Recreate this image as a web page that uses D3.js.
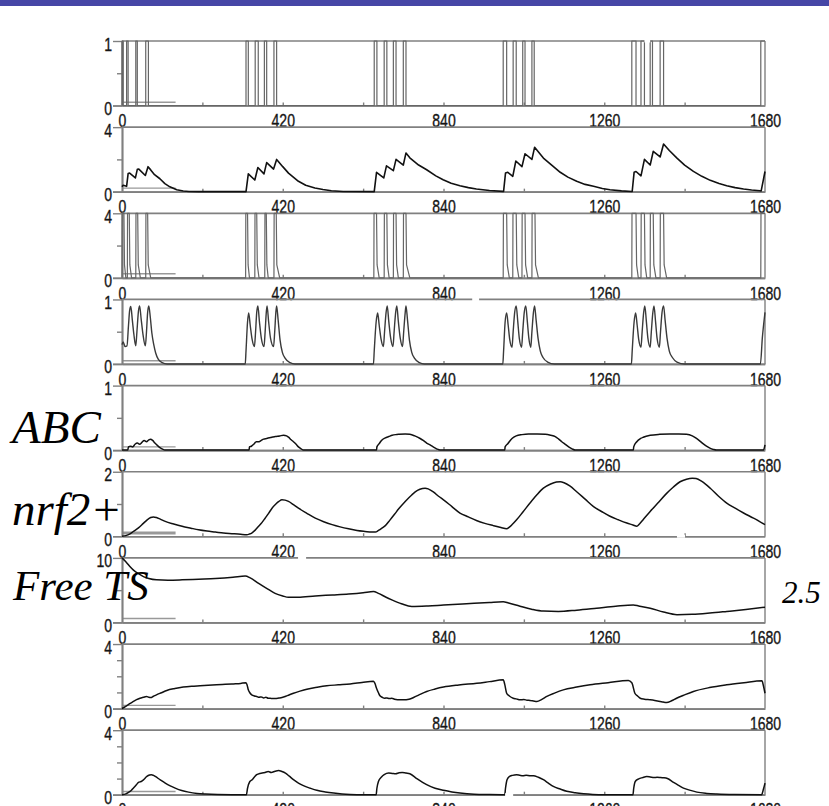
<!DOCTYPE html>
<html>
<head>
<meta charset="utf-8">
<script src="https://cdn.jsdelivr.net/npm/d3@7"></script>
<style>
  html, body { margin: 0; padding: 0; background: #fff; }
  svg { display: block; }
  .tick text { font-family: "Liberation Sans", Arial, sans-serif; fill: #151515; stroke: #151515; stroke-width: 0.35; }
  .lbl { font-family: "Liberation Serif", "Times New Roman", serif; font-style: italic; fill: #000; }
</style>
</head>
<body>
<svg id="chart" width="829" height="806"></svg>
<script>
// -------------------------
// Data
// -------------------------
const xLabelTicks = [0, 420, 840, 1260, 1680];
const xMinorTicks = [210, 420, 630, 840, 1050, 1260, 1470];

// panel 1: puff on / off times
const puffs = [
  [0, 3], [12, 16], [36, 40], [62, 69],
  [324, 330], [348, 356], [372, 378], [397, 404],
  [659, 666], [685, 692], [709, 716], [735, 742],
  [996, 1005], [1022, 1030], [1047, 1053], [1071, 1077],
  [1332, 1343], [1356, 1365], [1380, 1386], [1406, 1415],
  [1669, 1680]
];

// panel 2
const deposit = [
  [0,0.3],[3,0.4],[12,0.33],[16,1.12],[20,1.15],[35,0.85],[40,1.38],[44,1.4],[61,1.0],[68,1.55],
  [75,1.35],[85,1.05],[99,0.8],[112,0.5],[125,0.3],[143,0.12],[160,0.04],[175,0.01],[200,0],[323,0],
  [324,0],[330,1.1],[347,0.72],[355,1.5],[371,1.1],[378,1.8],[396,1.4],[404,2.0],[420,1.55],[435,1.15],
  [461,0.64],[480,0.4],[504,0.23],[525,0.13],[547,0.06],[578,0.01],[658,0],
  [659,0],[665,1.2],[684,0.85],[691,1.6],[709,1.3],[716,2.0],[735,1.65],[742,2.4],[752,2.1],[775,1.65],
  [796,1.36],[820,0.98],[839,0.74],[860,0.52],[883,0.37],[905,0.25],[926,0.16],[960,0.07],[995,0.02],
  [997,0.02],[1002,1.15],[1008,1.2],[1021,0.95],[1029,1.9],[1045,1.55],[1053,2.35],[1071,2.0],[1078,2.75],
  [1101,2.08],[1125,1.6],[1145,1.2],[1165,0.9],[1188,0.64],[1210,0.45],[1232,0.33],[1255,0.2],[1275,0.12],
  [1305,0.05],[1332,0.01],
  [1333,0.01],[1338,1.2],[1343,1.25],[1356,0.98],[1365,2.0],[1380,1.65],[1388,2.5],[1406,2.15],[1415,2.95],
  [1430,2.55],[1450,2.08],[1470,1.65],[1493,1.26],[1515,0.95],[1537,0.7],[1560,0.5],[1580,0.37],[1602,0.25],
  [1624,0.16],[1645,0.1],[1667,0.06],[1670,0.05],[1680,1.25]
];

// panel 3
const spikes = [
  [0,0],[0.5,4],[5,4],[6.5,0.8],[10,0],
  [14,0],[14.5,4],[19,4],[20.5,0.8],[25,0],
  [36,0],[36.5,4],[41,4],[42.5,0.8],[48,0],
  [62,0],[62.5,4],[67,4],[68.5,0.8],[75,0],
  [323,0],[323.5,4],[328,4],[329.5,0.8],[333,0],
  [347,0],[347.5,4],[352,4],[353.5,0.8],[358,0],
  [373,0],[373.5,4],[377,4],[378.5,0.8],[382,0],
  [397,0],[397.5,4],[403,4],[404.5,0.8],[412,0],
  [658,0],[658.5,4],[665,4],[666.5,0.8],[672,0],
  [685,0],[685.5,4],[692,4],[693.5,0.8],[698,0],
  [709,0],[709.5,4],[716,4],[717.5,0.8],[722,0],
  [735,0],[735.5,4],[742,4],[743.5,0.8],[752,0],
  [996,0],[996.5,4],[1005,4],[1006.5,0.8],[1012,0],
  [1021,0],[1021.5,4],[1030,4],[1031.5,0.8],[1037,0],
  [1045,0],[1045.5,4],[1053,4],[1054.5,0.8],[1060,0],
  [1071,0],[1071.5,4],[1079,4],[1080.5,0.8],[1088,0],
  [1332,0],[1332.5,4],[1343,4],[1344.5,0.8],[1349,0],
  [1356,0],[1356.5,4],[1365,4],[1366.5,0.8],[1371,0],
  [1380,0],[1380.5,4],[1388,4],[1389.5,0.8],[1395,0],
  [1406,0],[1406.5,4],[1415,4],[1416.5,0.8],[1423,0],
  [1669,0],[1669.5,4],[1680,4]
];

// panel 4
const bursts = [
  [0,0.3],[3,0.34],[8,0.27],[13,0.28],[17,0.6],[20,0.83],[23,0.89],[27,0.68],[31,0.46],[36,0.28],
  [39,0.5],[43,0.82],[46,0.9],[50,0.7],[55,0.45],[61,0.28],[64,0.5],[67,0.8],[70,0.9],[74,0.72],
  [78,0.48],[83,0.3],[88,0.17],[95,0.07],[105,0.02],[118,0],[322,0],
  [324,0.2],[328,0.65],[331,0.79],[335,0.6],[340,0.38],[346,0.27],[349,0.5],[352,0.8],[355,0.9],
  [359,0.66],[364,0.4],[371,0.27],[374,0.5],[377,0.8],[379,0.9],[383,0.66],[388,0.4],[396,0.27],
  [399,0.5],[402,0.8],[404,0.9],[408,0.68],[413,0.37],[419,0.18],[426,0.09],[439,0.02],[452,0],[657,0],
  [659,0.2],[664,0.65],[668,0.79],[672,0.6],[677,0.38],[683,0.27],[686,0.5],[690,0.8],[693,0.9],
  [697,0.66],[702,0.4],[708,0.27],[711,0.5],[715,0.8],[718,0.9],[722,0.66],[727,0.4],[733,0.27],
  [736,0.5],[740,0.8],[742,0.9],[746,0.68],[751,0.37],[757,0.18],[764,0.09],[777,0.02],[790,0],[995,0],
  [997,0.2],[1001,0.65],[1005,0.79],[1009,0.6],[1013,0.38],[1019,0.26],[1022,0.5],[1026,0.8],[1030,0.9],
  [1034,0.66],[1038,0.4],[1044,0.26],[1047,0.5],[1051,0.8],[1055,0.9],[1059,0.66],[1063,0.4],[1068,0.26],
  [1071,0.5],[1075,0.8],[1078,0.9],[1082,0.68],[1087,0.4],[1093,0.2],[1100,0.1],[1112,0.03],[1130,0],[1331,0],
  [1333,0.2],[1338,0.65],[1342,0.79],[1346,0.6],[1350,0.38],[1356,0.26],[1359,0.5],[1363,0.8],[1366,0.9],
  [1370,0.66],[1374,0.4],[1380,0.26],[1383,0.5],[1387,0.8],[1390,0.9],[1394,0.66],[1398,0.4],[1404,0.26],
  [1407,0.5],[1411,0.8],[1415,0.9],[1419,0.68],[1424,0.4],[1430,0.2],[1438,0.1],[1450,0.03],[1470,0],
  [1668,0],[1673,0.4],[1680,0.8]
];

// panel 5: ABC
const abc = [
  [0,0],[15,0],[17,0.05],[22,0.06],[28,0.05],[34,0.09],[40,0.11],[46,0.09],[52,0.12],[58,0.15],
  [64,0.13],[70,0.16],[75,0.17],[80,0.15],[86,0.11],[93,0.07],[99,0.04],[106,0.015],[112,0],[332,0],
  [333,0.05],[338,0.06],[344,0.09],[351,0.13],[358,0.13],[364,0.15],[370,0.17],[378,0.18],[385,0.19],
  [391,0.2],[400,0.21],[412,0.22],[422,0.23],[430,0.22],[435,0.2],[442,0.16],[448,0.13],[455,0.09],
  [461,0.05],[468,0.02],[474,0],[665,0],
  [666,0.05],[672,0.1],[678,0.15],[688,0.19],[697,0.21],[706,0.23],[715,0.24],[724,0.245],[740,0.25],
  [752,0.245],[765,0.22],[779,0.18],[787,0.15],[796,0.11],[805,0.08],[813,0.05],[822,0.02],[831,0],[1000,0],
  [1001,0.05],[1008,0.1],[1019,0.18],[1030,0.22],[1045,0.24],[1062,0.25],[1085,0.25],[1106,0.245],
  [1120,0.23],[1132,0.21],[1141,0.17],[1149,0.13],[1158,0.09],[1167,0.05],[1176,0.02],[1184,0],[1336,0],
  [1337,0.05],[1345,0.13],[1355,0.18],[1362,0.2],[1380,0.23],[1405,0.245],[1431,0.25],[1455,0.25],
  [1475,0.245],[1490,0.22],[1501,0.18],[1510,0.14],[1518,0.1],[1527,0.06],[1536,0.03],[1545,0.01],
  [1553,0],[1676,0],[1680,0.08]
];

// panel 6: nrf2+
const nrf2 = [
  [0,0],[10,0.02],[17,0.05],[30,0.15],[43,0.26],[55,0.39],[65,0.5],[75,0.58],[82,0.6],[90,0.58],
  [100,0.53],[113,0.46],[135,0.38],[157,0.31],[180,0.25],[200,0.2],[222,0.16],[244,0.13],[265,0.1],
  [287,0.08],[310,0.06],[326,0.05],[333,0.07],[339,0.1],[348,0.19],[357,0.31],[366,0.43],[374,0.56],
  [383,0.71],[392,0.87],[402,1.0],[410,1.08],[418,1.13],[426,1.12],[435,1.08],[448,0.98],[461,0.87],
  [483,0.71],[505,0.56],[527,0.45],[549,0.36],[570,0.29],[592,0.23],[614,0.18],[635,0.15],[652,0.13],
  [662,0.13],[670,0.18],[680,0.26],[688,0.33],[700,0.5],[712,0.68],[723,0.85],[740,1.08],[757,1.28],
  [772,1.42],[785,1.48],[792,1.49],[800,1.47],[815,1.36],[827,1.24],[840,1.13],[862,0.92],[883,0.72],
  [905,0.6],[926,0.49],[948,0.4],[970,0.33],[990,0.27],[1005,0.23],[1012,0.28],[1020,0.37],[1031,0.51],
  [1048,0.76],[1066,1.03],[1083,1.27],[1101,1.49],[1120,1.62],[1135,1.68],[1145,1.69],[1155,1.66],
  [1170,1.56],[1188,1.38],[1210,1.15],[1232,0.92],[1254,0.76],[1275,0.62],[1297,0.51],[1319,0.41],
  [1335,0.35],[1345,0.31],[1352,0.38],[1362,0.52],[1380,0.77],[1400,1.03],[1423,1.33],[1440,1.52],
  [1458,1.69],[1475,1.77],[1490,1.8],[1500,1.79],[1515,1.7],[1537,1.49],[1558,1.25],[1580,1.03],
  [1602,0.87],[1624,0.72],[1650,0.56],[1680,0.36]
];

// panel 7: Free TS
const freeTS = [
  [0,10],[10,9.4],[20,8.7],[30,8.1],[42,7.6],[56,7.1],[70,6.8],[90,6.6],[120,6.55],[157,6.6],
  [200,6.7],[244,6.8],[290,7.0],[322,7.2],[335,6.9],[357,6.05],[380,5.2],[400,4.5],[420,4.1],[435,3.9],
  [460,3.9],[505,4.1],[550,4.25],[592,4.4],[630,4.6],[657,4.8],[670,4.5],[690,3.9],[705,3.5],[730,2.9],
  [757,2.46],[800,2.55],[840,2.7],[900,2.9],[960,3.1],[996,3.2],[1010,3.0],[1040,2.5],[1070,2.05],
  [1101,1.75],[1140,1.7],[1188,1.9],[1240,2.2],[1290,2.5],[1336,2.7],[1350,2.55],[1380,2.2],[1415,1.6],
  [1450,1.2],[1490,1.25],[1536,1.45],[1580,1.7],[1630,2.0],[1680,2.35]
];

// panel 8
const bound = [
  [0,0],[6,0.08],[12,0.17],[20,0.3],[30,0.44],[38,0.55],[47,0.64],[56,0.7],[64,0.75],[70,0.7],
  [75,0.68],[82,0.76],[90,0.85],[103,0.98],[117,1.12],[138,1.24],[160,1.33],[182,1.38],[204,1.41],
  [225,1.44],[247,1.47],[270,1.5],[291,1.53],[310,1.56],[324,1.6],[327,1.45],[330,1.16],[334,0.98],
  [339,0.85],[346,0.78],[352,0.75],[358,0.7],[364,0.72],[370,0.66],[376,0.7],[382,0.64],[390,0.63],
  [400,0.62],[410,0.65],[418,0.68],[432,0.8],[448,0.95],[465,1.08],[483,1.2],[510,1.32],[535,1.41],
  [565,1.47],[596,1.53],[627,1.62],[657,1.7],[661,1.55],[665,1.26],[670,0.98],[674,0.79],[680,0.7],
  [686,0.64],[692,0.66],[698,0.62],[705,0.64],[712,0.58],[720,0.55],[735,0.54],[750,0.58],[763,0.7],
  [776,0.85],[796,1.06],[818,1.21],[840,1.33],[880,1.46],[927,1.57],[960,1.67],[996,1.78],[1000,1.5],
  [1005,0.95],[1012,0.78],[1022,0.64],[1030,0.6],[1040,0.54],[1050,0.56],[1058,0.52],[1066,0.5],
  [1075,0.47],[1084,0.44],[1096,0.55],[1110,0.75],[1130,0.96],[1153,1.16],[1188,1.33],[1223,1.47],
  [1270,1.6],[1323,1.74],[1332,1.6],[1340,0.95],[1347,0.78],[1354,0.64],[1365,0.58],[1380,0.54],
  [1392,0.5],[1406,0.44],[1414,0.4],[1423,0.37],[1436,0.48],[1449,0.64],[1470,0.85],[1493,1.06],
  [1535,1.3],[1580,1.47],[1625,1.6],[1672,1.72],[1676,1.4],[1680,0.95]
];

// panel 9
const response = [
  [0,0],[10,0.05],[17,0.14],[24,0.26],[30,0.41],[37,0.6],[43,0.76],[50,0.82],[56,0.92],[65,1.13],
  [72,1.22],[77,1.24],[82,1.2],[87,1.13],[100,0.92],[113,0.72],[126,0.55],[139,0.41],[156,0.26],
  [174,0.16],[196,0.08],[218,0.04],[250,0.01],[287,0],[325,0],
  [328,0.4],[334,0.82],[340,0.93],[346,1.1],[352,1.24],[360,1.32],[366,1.34],[374,1.38],[382,1.44],
  [390,1.38],[400,1.45],[409,1.5],[418,1.44],[427,1.34],[437,1.15],[448,0.93],[461,0.72],[474,0.56],
  [492,0.4],[509,0.27],[531,0.17],[553,0.1],[575,0.05],[596,0.02],[630,0],[664,0],
  [666,0.4],[670,0.82],[678,1.1],[685,1.24],[697,1.34],[706,1.32],[715,1.3],[724,1.36],[732,1.38],
  [742,1.34],[752,1.3],[770,1.0],[796,0.62],[818,0.4],[840,0.27],[862,0.17],[883,0.1],[920,0.03],
  [960,0.01],[1000,0],
  [1002,0.4],[1006,0.93],[1012,1.13],[1020,1.2],[1031,1.24],[1040,1.2],[1048,1.18],[1056,1.2],
  [1066,1.18],[1075,1.18],[1088,1.08],[1101,0.93],[1114,0.72],[1127,0.52],[1145,0.35],[1162,0.21],
  [1184,0.12],[1206,0.06],[1230,0.02],[1258,0],[1335,0],
  [1337,0.4],[1341,0.82],[1350,0.98],[1360,1.06],[1371,1.13],[1380,1.1],[1390,1.06],[1398,1.08],
  [1406,1.07],[1415,1.05],[1425,1.0],[1441,0.76],[1454,0.58],[1467,0.41],[1485,0.27],[1502,0.16],
  [1528,0.08],[1554,0.04],[1600,0.01],[1671,0],[1676,0.35],[1680,0.72]
];

// panel y maxima, minor y ticks and the short grey level mark (data units) near t = 0..140
const yMax = [1, 4, 4, 1, 1, 2, 10, 4, 4];
const yMinor = [[0.5], [2], [2], [0.5], [0.5], [1], [5], [1, 2, 3], [1, 2, 3]];
const levelMark = [0.05, 0.22, 0.25, 0.05, 0.05, 0.1, 0.6, 0.2, 0.2];
const markEnd = 140;

// white breaks in the frame lines (panel, edge, t0, t1)
const frameBreaks = [[0, "top", 1365, 1380], [3, "top", 915, 933], [5, "bottom", 1450, 1471],
                     [6, "top", 460, 481], [8, "bottom", 1001, 1022]];

const sideLabels = [
  {text: "ABC", x: 12, y: 443, size: 47},
  {text: "nrf2+", x: 12, y: 525, size: 47},
  {text: "Free TS", x: 13, y: 600, size: 43},
  {text: "2.5", x: 782, y: 603, size: 31}
];

// -------------------------
// Layout
// -------------------------
const svg = d3.select("#chart");
const PANEL_TOP = 41, PANEL_STEP = 86.15, PANEL_H = 64.5;
const FRAME = "#808080";
const SQUEEZE = 0.78;   // tick labels are a narrow face

svg.append("rect").attr("x", 0).attr("y", 0).attr("width", 829).attr("height", 6).attr("fill", "#4646a6");

const x = d3.scaleLinear().domain([0, 1680]).range([122, 765]);

const puffLine = [];
puffs.forEach(([s, e]) => { puffLine.push([s, 0], [s, 1], [e, 1]); if (e < 1680) puffLine.push([e, 0]); });

const series = [
  {data: puffLine, color: "#666", w: 1.2, curve: d3.curveLinear},
  {data: deposit, color: "#111", w: 1.6, curve: d3.curveLinear},
  {data: spikes, color: "#666", w: 1.2, curve: d3.curveLinear},
  {data: bursts, color: "#3a3a3a", w: 1.4, curve: d3.curveMonotoneX},
  {data: abc, color: "#111", w: 1.5, curve: d3.curveMonotoneX},
  {data: nrf2, color: "#111", w: 1.5, curve: d3.curveMonotoneX},
  {data: freeTS, color: "#111", w: 1.5, curve: d3.curveMonotoneX},
  {data: bound, color: "#111", w: 1.5, curve: d3.curveMonotoneX},
  {data: response, color: "#111", w: 1.5, curve: d3.curveMonotoneX}
];

series.forEach((s, i) => {
  const top = PANEL_TOP + i * PANEL_STEP, bottom = top + PANEL_H;
  const y = d3.scaleLinear().domain([0, yMax[i]]).range([bottom, top]);
  const g = svg.append("g");

  // grey level mark
  g.append("line")
    .attr("x1", x(0)).attr("x2", x(markEnd))
    .attr("y1", y(levelMark[i])).attr("y2", y(levelMark[i]))
    .attr("stroke", "#999").attr("stroke-width", i === 5 ? 3 : 1.4);

  // frame: top and right edges
  g.append("line").attr("x1", x(0)).attr("x2", x(1680)).attr("y1", top).attr("y2", top)
    .attr("stroke", FRAME).attr("stroke-width", 1.7);
  g.append("line").attr("x1", x(1680)).attr("x2", x(1680)).attr("y1", top).attr("y2", bottom)
    .attr("stroke", FRAME).attr("stroke-width", 1.4);

  // left axis: long ticks with labels, short minor ticks
  const yAxis = g.append("g").attr("transform", `translate(${x(0)},0)`)
    .call(d3.axisLeft(y).tickValues([0, yMax[i]]).tickSize(9).tickSizeOuter(0).tickPadding(1)
      .tickFormat(d3.format("d")));
  g.append("g").attr("transform", `translate(${x(0)},0)`)
    .call(d3.axisLeft(y).tickValues(yMinor[i]).tickSize(5).tickSizeOuter(0).tickFormat(""));

  // bottom axis: labels below, small inner ticks
  const xAxis = g.append("g").attr("transform", `translate(0,${bottom})`)
    .call(d3.axisBottom(x).tickValues(xLabelTicks).tickSize(0).tickSizeOuter(0).tickPadding(9)
      .tickFormat(d3.format("d")));
  g.append("g").attr("transform", `translate(0,${bottom})`)
    .call(d3.axisBottom(x).tickValues(xMinorTicks).tickSize(-3).tickSizeOuter(0).tickFormat(""));

  g.selectAll(".domain").attr("stroke", FRAME).attr("stroke-width", 1.7);
  g.selectAll(".tick line").attr("stroke", FRAME).attr("stroke-width", 1.4);
  g.selectAll(".tick text").attr("font-size", 18).attr("transform", `scale(${SQUEEZE},1)`);
  yAxis.selectAll(".tick text").attr("x", -10 / SQUEEZE).attr("dy", "0.5em");
  xAxis.select(".domain").attr("d", `M${x(0) - 9},0.5H${x(1680)}`);

  // the curve
  const line = d3.line().x(d => x(d[0])).y(d => y(d[1])).curve(s.curve);
  g.append("path").datum(s.data)
    .attr("d", line)
    .attr("fill", "none")
    .attr("stroke", s.color)
    .attr("stroke-width", s.w)
    .attr("stroke-linejoin", "round");

  // breaks in the frame lines
  frameBreaks.filter(b => b[0] === i).forEach(b => {
    const yy = b[1] === "top" ? top : bottom;
    g.append("rect").attr("x", x(b[2])).attr("width", x(b[3]) - x(b[2]))
      .attr("y", yy - 1.5).attr("height", 3).attr("fill", "#fff");
  });
});

svg.selectAll("text.lbl").data(sideLabels).enter().append("text")
  .attr("class", "lbl")
  .attr("x", d => d.x).attr("y", d => d.y)
  .attr("font-size", d => d.size)
  .text(d => d.text);
</script>
</body>
</html>
